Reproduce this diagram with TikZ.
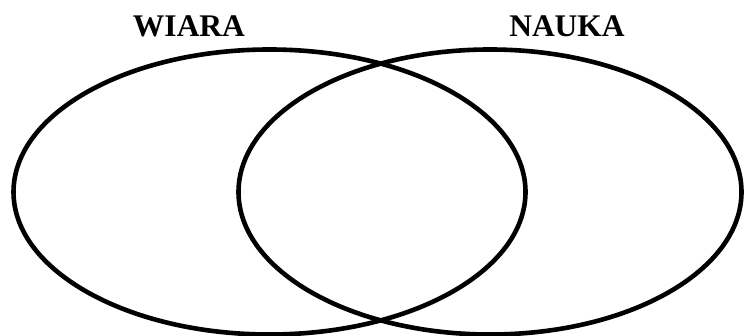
\documentclass[tikz,border=0pt]{standalone}
\usepackage{fontspec}
\setmainfont{Liberation Serif}
\begin{document}
\begin{tikzpicture}[x=1pt,y=-1pt,
  venn/.style={draw=black,line width=4.6pt},
  title/.style={font=\fontsize{31.5}{36}\selectfont\bfseries,anchor=base,inner sep=0pt}]
\useasboundingbox (0,0) rectangle (744,336);
\draw[venn] (269.5,192) ellipse [x radius=256, y radius=142.5];
\draw[venn] (490,192) ellipse [x radius=251.5, y radius=142.5];
\node[title] (wiara) at (189,37) {WIARA};
\node[title] (nauka) at (567,37) {NAUKA};
\end{tikzpicture}
\end{document}
